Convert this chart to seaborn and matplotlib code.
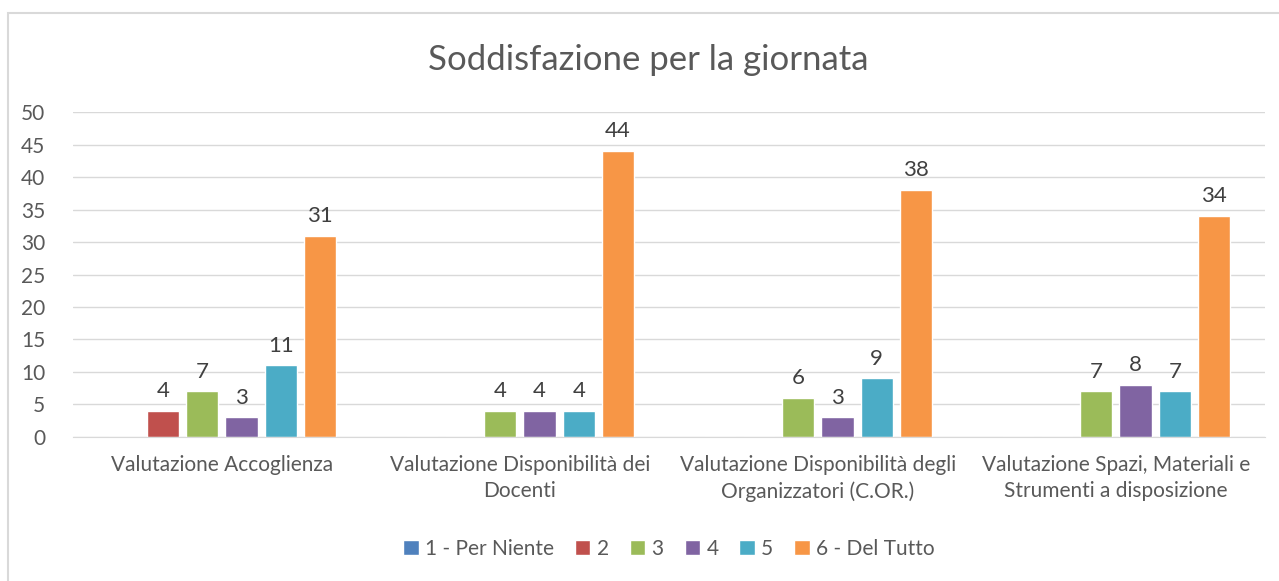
import pandas as pd
import seaborn as sns
import matplotlib.pyplot as plt
from matplotlib.patches import Rectangle

categories = [
    "Valutazione Accoglienza",
    "Valutazione Disponibilità dei\nDocenti",
    "Valutazione Disponibilità degli\nOrganizzatori (C.OR.)",
    "Valutazione Spazi, Materiali e\nStrumenti a disposizione",
]
series = ["1 - Per Niente", "2", "3", "4", "5", "6 - Del Tutto"]
values = {
    "1 - Per Niente": [0, 0, 0, 0],
    "2": [4, 0, 0, 0],
    "3": [7, 4, 6, 7],
    "4": [3, 4, 3, 8],
    "5": [11, 4, 9, 7],
    "6 - Del Tutto": [31, 44, 38, 34],
}
colors = ["#4F81BD", "#C0504D", "#9BBB59", "#8064A2", "#4BACC6", "#F79646"]

rows = []
for s in series:
    for c, v in zip(categories, values[s]):
        rows.append({"categoria": c, "serie": s, "valore": v})
data = pd.DataFrame(rows)

sns.set_style("white")
plt.rcParams["font.family"] = ["Lato", "DejaVu Sans"]

fig = plt.figure(figsize=(12.79, 5.81), dpi=100)
ax = fig.add_axes([0.057, 0.248, 0.932, 0.559])

sns.barplot(
    data=data,
    x="categoria",
    y="valore",
    hue="serie",
    hue_order=series,
    order=categories,
    palette=colors,
    width=0.79,
    gap=0.18,
    saturation=1,
    ax=ax,
)

for container in ax.containers:
    labels = [f"{b.get_height():.0f}" if b.get_height() > 0 else "" for b in container]
    ax.bar_label(container, labels=labels, padding=7, fontsize=16, color="#404040")

ax.set_ylim(0, 50)
ax.set_xlim(-0.5, 3.5)
ax.set_yticks(range(0, 51, 5))
ax.yaxis.grid(True, color="#d9d9d9", linewidth=1)
ax.set_axisbelow(True)
for side in ["top", "right", "left"]:
    ax.spines[side].set_visible(False)
ax.spines["bottom"].set_color("#d9d9d9")
ax.tick_params(axis="both", length=0, colors="#595959", labelsize=15)
ax.tick_params(axis="x", pad=13)
ax.tick_params(axis="y", pad=20)
for lbl in ax.get_xticklabels():
    lbl.set_linespacing(1.4)
ax.set_xlabel("")
ax.set_ylabel("")

fig.suptitle("Soddisfazione per la giornata", x=0.507, y=0.925, fontsize=25, color="#595959")

ax.legend(
    loc="center",
    bbox_to_anchor=(0.5, -0.345),
    ncol=6,
    frameon=False,
    fontsize=15,
    handlelength=0.75,
    handleheight=0.75,
    handletextpad=0.3,
    columnspacing=1.0,
    labelcolor="#595959",
)

fig.patches.append(Rectangle((8 / 1279, -0.1), 1.2, 1 - 13 / 581 + 0.1,
                             transform=fig.transFigure, fill=False,
                             edgecolor="#d9d9d9", linewidth=1.5))

fig.savefig("out.png", dpi=100)
